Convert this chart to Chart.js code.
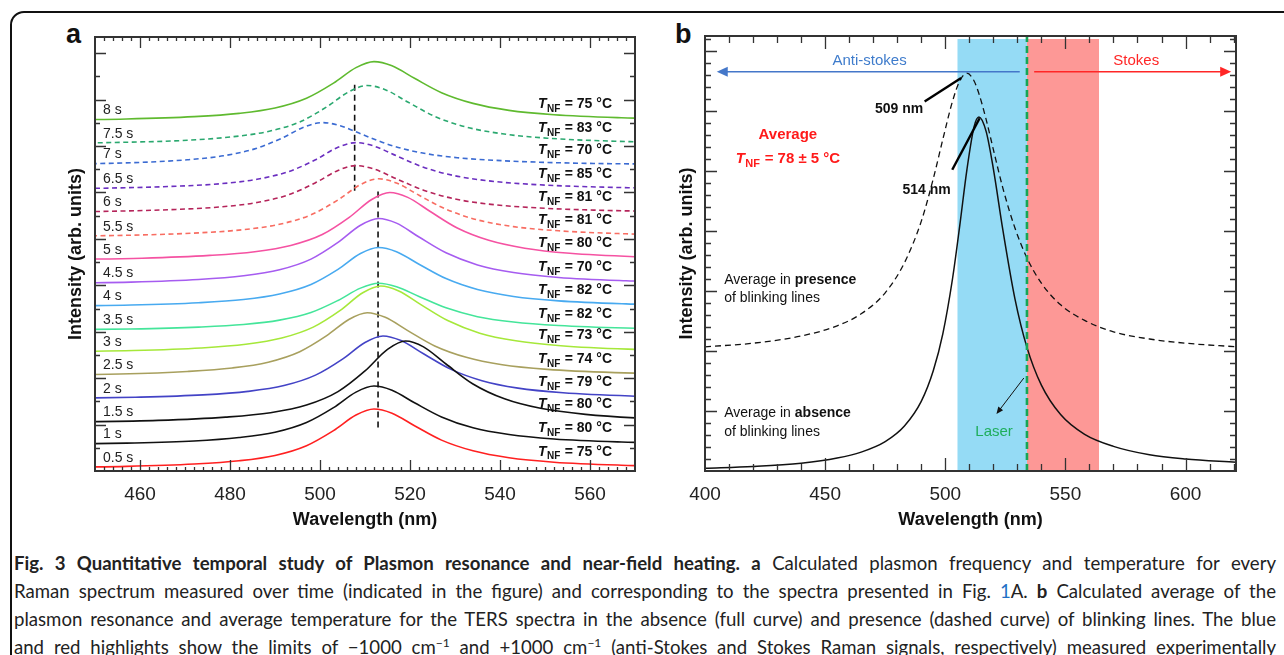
<!DOCTYPE html>
<html lang="en">
<head>
  <meta charset="UTF-8">
  <title>Fig. 3 - Plasmon resonance and near-field heating</title>
  <script src="https://cdn.jsdelivr.net/npm/chart.js@4"></script>
  <style>
    html, body { margin: 0; padding: 0; background: #fff; }
    body { width: 1284px; height: 655px; overflow: hidden; position: relative; font-family: "Liberation Sans", Arial, sans-serif; }
    .frame { position: absolute; left: 10px; top: 11px; width: 1320px; height: 720px; border: 2px solid #111; border-radius: 14px; box-sizing: border-box; }
    .panel { position: absolute; top: 20px; height: 515px; }
    #wrapA { left: 40px; width: 610px; }
    #wrapB { left: 650px; width: 600px; }
    .tag { position: absolute; top: 21px; font: bold 27px/27px "Liberation Sans", Arial, sans-serif; color: #111; }
    .caption { position: absolute; left: 14px; width: 1262px; top: 549px; font-family: Lato, "Liberation Sans", sans-serif; font-size: 18.6px; line-height: 28px; color: #222; }
    .caption div { text-align: justify; text-align-last: justify; }
    .caption .ln { color: #1f6fc5; }
    .caption sup { font-size: 12px; line-height: 0; }
  </style>
</head>

<body>
  <div class="frame"></div>
  <div class="tag" style="left:66px;">a</div>
  <div class="tag" style="left:675px;">b</div>
  <div class="panel" id="wrapA"><canvas id="chartA"></canvas></div>
  <div class="panel" id="wrapB"><canvas id="chartB"></canvas></div>

  <div class="caption">
    <div><b>Fig. 3 Quantitative temporal study of Plasmon resonance and near-field heating. a</b> Calculated plasmon frequency and temperature for every</div>
    <div>Raman spectrum measured over time (indicated in the figure) and corresponding to the spectra presented in Fig. <span class="ln">1</span>A. <b>b</b> Calculated average of the</div>
    <div>plasmon resonance and average temperature for the TERS spectra in the absence (full curve) and presence (dashed curve) of blinking lines. The blue</div>
    <div>and red highlights show the limits of −1000 cm<sup>−1</sup> and +1000 cm<sup>−1</sup> (anti-Stokes and Stokes Raman signals, respectively) measured experimentally</div>
  </div>

  <script>
    // ---- panel a : spectra over time, [wavelength nm, intensity] ----
    const ticksA = [460, 480, 500, 520, 540, 560];
    const timesA = ['0.5 s', '1 s', '1.5 s', '2 s', '2.5 s', '3 s', '3.5 s', '4 s', '4.5 s', '5 s', '5.5 s', '6 s', '6.5 s', '7 s', '7.5 s', '8 s'];
    const tempsA = [75, 80, 80, 79, 74, 73, 82, 82, 70, 80, 81, 81, 85, 70, 83, 75];

    const s05 = [[437, 0.15], [457, 0.2], [472, 0.3], [482, 0.44], [490, 0.67], [497, 1.09], [503, 1.74], [508, 2.41], [512, 2.67], [516, 2.49], [521, 1.95], [527, 1.33], [534, 0.87], [542, 0.57], [552, 0.38], [567, 0.25], [587, 0.17]];
    const s10 = [[437, 1.15], [457, 1.2], [472, 1.29], [482, 1.44], [490, 1.67], [497, 2.09], [503, 2.73], [508, 3.4], [512, 3.66], [516, 3.48], [521, 2.94], [527, 2.33], [534, 1.86], [542, 1.57], [552, 1.38], [567, 1.25], [587, 1.17]];
    const s15 = [[444, 2.11], [464, 2.18], [479, 2.32], [489, 2.51], [497, 2.84], [504, 3.42], [510, 4.31], [515, 5.24], [519, 5.6], [523, 5.35], [528, 4.61], [534, 3.75], [541, 3.11], [549, 2.7], [559, 2.44], [574, 2.25], [594, 2.15]];
    const s20 = [[439, 3.12], [459, 3.18], [474, 3.28], [484, 3.43], [492, 3.68], [499, 4.13], [505, 4.82], [510, 5.54], [514, 5.82], [518, 5.62], [523, 5.05], [529, 4.39], [536, 3.89], [544, 3.57], [554, 3.37], [569, 3.23], [589, 3.15]];
    const s25 = [[435.5, 4.13], [455.5, 4.18], [470.5, 4.29], [480.5, 4.44], [488.5, 4.69], [495.5, 5.14], [501.5, 5.83], [506.5, 6.54], [510.5, 6.82], [514.5, 6.62], [519.5, 6.05], [525.5, 5.39], [532.5, 4.9], [540.5, 4.58], [550.5, 4.38], [565.5, 4.24], [585.5, 4.16]];
    const s30 = [[438.5, 5.13], [458.5, 5.19], [473.5, 5.3], [483.5, 5.46], [491.5, 5.73], [498.5, 6.2], [504.5, 6.92], [509.5, 7.68], [513.5, 7.97], [517.5, 7.76], [522.5, 7.16], [528.5, 6.47], [535.5, 5.94], [543.5, 5.61], [553.5, 5.4], [568.5, 5.25], [588.5, 5.17]];
    const s35 = [[438, 6.08], [458, 6.12], [473, 6.2], [483, 6.31], [491, 6.5], [498, 6.83], [504, 7.35], [509, 7.88], [513, 8.09], [517, 7.94], [522, 7.52], [528, 7.03], [535, 6.65], [543, 6.42], [553, 6.27], [568, 6.16], [588, 6.1]];
    const s40 = [[438, 7.1], [458, 7.15], [473, 7.25], [483, 7.39], [491, 7.63], [498, 8.04], [504, 8.69], [509, 9.37], [513, 9.63], [517, 9.45], [522, 8.91], [528, 8.29], [535, 7.82], [543, 7.52], [553, 7.33], [568, 7.2], [588, 7.12]];
    const s45 = [[438, 8.08], [458, 8.14], [473, 8.25], [483, 8.41], [491, 8.67], [498, 9.13], [504, 9.85], [509, 10.59], [513, 10.88], [517, 10.68], [522, 10.08], [528, 9.4], [535, 8.88], [543, 8.55], [553, 8.34], [568, 8.2], [588, 8.11]];
    const s50 = [[440.5, 9.11], [460.5, 9.17], [475.5, 9.29], [485.5, 9.45], [493.5, 9.72], [500.5, 10.19], [506.5, 10.93], [511.5, 11.7], [515.5, 12.0], [519.5, 11.79], [524.5, 11.18], [530.5, 10.47], [537.5, 9.94], [545.5, 9.6], [555.5, 9.38], [570.5, 9.23], [590.5, 9.15]];
    const s55 = [[438, 10.11], [458, 10.16], [473, 10.26], [483, 10.4], [491, 10.63], [498, 11.04], [504, 11.68], [509, 12.34], [513, 12.59], [517, 12.41], [522, 11.88], [528, 11.28], [535, 10.82], [543, 10.53], [553, 10.35], [568, 10.22], [588, 10.14]];
    const s60 = [[433, 11.15], [453, 11.19], [468, 11.27], [478, 11.38], [486, 11.57], [493, 11.9], [499, 12.42], [504, 12.95], [508, 13.16], [512, 13.01], [517, 12.59], [523, 12.1], [530, 11.72], [538, 11.49], [548, 11.34], [563, 11.23], [583, 11.17]];
    const s65 = [[433, 12.15], [453, 12.19], [468, 12.27], [478, 12.38], [486, 12.57], [493, 12.9], [499, 13.41], [504, 13.95], [508, 14.15], [512, 14.0], [517, 13.58], [523, 13.09], [530, 12.72], [538, 12.49], [548, 12.34], [563, 12.23], [583, 12.17]];
    const s70 = [[425.5, 13.2], [445.5, 13.23], [460.5, 13.3], [470.5, 13.41], [478.5, 13.58], [485.5, 13.88], [491.5, 14.34], [496.5, 14.82], [500.5, 15.01], [504.5, 14.88], [509.5, 14.49], [515.5, 14.05], [522.5, 13.71], [530.5, 13.5], [540.5, 13.37], [555.5, 13.27], [575.5, 13.22]];
    const s75 = [[435.5, 14.1], [455.5, 14.16], [470.5, 14.25], [480.5, 14.4], [488.5, 14.63], [495.5, 15.04], [501.5, 15.69], [506.5, 16.35], [510.5, 16.61], [514.5, 16.43], [519.5, 15.9], [525.5, 15.28], [532.5, 14.82], [540.5, 14.53], [550.5, 14.34], [565.5, 14.21], [585.5, 14.13]];
    const s80 = [[437, 15.12], [457, 15.17], [472, 15.27], [482, 15.41], [490, 15.64], [497, 16.06], [503, 16.71], [508, 17.38], [512, 17.64], [516, 17.46], [521, 16.92], [527, 16.3], [534, 15.84], [542, 15.54], [552, 15.35], [567, 15.22], [587, 15.14]];
    const seriesA = [s05, s10, s15, s20, s25, s30, s35, s40, s45, s50, s55, s60, s65, s70, s75, s80];

    // dashed guides marking the resonance positions
    const guideUpper = [[507.7, 16.64], [507.7, 11.97]];
    const guideLower = [[512.9, 12.04], [512.9, 1.77]];

    const colorsA = ['#ff2020', '#111111', '#111111', '#4343c6', '#a8a05e', '#a6e83a', '#44e59a', '#48aaf0', '#a65cf0', '#f552a2', '#f86d62', '#b5245a', '#6b2fc0', '#3b6bd2', '#2aa86f', '#5fba2f'];
    const dashedA = [false, false, false, false, false, false, false, false, false, false, true, true, true, true, true, false];

    // ---- panel b : averaged spectra ----
    const ticksB = [400, 450, 500, 550, 600];
    const wavelengthsB = [400, 420, 440, 455, 465, 475, 483, 490, 495, 499, 503, 506, 509, 512, 514, 517, 520, 524, 529, 534, 540, 548, 558, 570, 585, 600, 621];
    const absenceB = [0.045, 0.075, 0.13, 0.215, 0.315, 0.49, 0.75, 1.16, 1.67, 2.29, 3.2, 4.08, 5.02, 5.74, 5.9, 5.66, 5.04, 4.01, 2.87, 2.06, 1.43, 0.94, 0.61, 0.41, 0.27, 0.2, 0.145];
    const presenceB = [2.07, 2.13, 2.25, 2.42, 2.62, 2.97, 3.47, 4.16, 4.87, 5.53, 6.16, 6.5, 6.63, 6.5, 6.29, 5.86, 5.36, 4.71, 4.05, 3.55, 3.13, 2.77, 2.51, 2.32, 2.2, 2.13, 2.07];
    const antiStokesBand = [505, 534];
    const stokesBand = [534, 564];
    const laserNm = 534;
    const bandTop = 7.2;

    const FONT = '"Liberation Sans", Arial, Helvetica, sans-serif';
    Chart.defaults.font.family = FONT;
    Chart.defaults.color = '#222';

    function valueAt(pts, nm) {
      for (let i = 1; i < pts.length; i++) {
        if (pts[i][0] >= nm) {
          const [x0, y0] = pts[i - 1], [x1, y1] = pts[i];
          return y0 + (y1 - y0) * (nm - x0) / (x1 - x0);
        }
      }
      return pts[pts.length - 1][1];
    }

    function drawTnf(ctx, x, yMid, tail, color, size, align) {
      const f1 = `italic bold ${size}px ${FONT}`, f2 = `bold ${Math.round(size * 0.72)}px ${FONT}`, f3 = `bold ${size}px ${FONT}`;
      ctx.font = f1; const w1 = ctx.measureText('T').width + 0.5;
      ctx.font = f2; const w2 = ctx.measureText('NF').width + 0.5;
      ctx.font = f3; const w3 = ctx.measureText(tail).width;
      const total = w1 + w2 + w3;
      const x0 = align === 'center' ? x - total / 2 : x - total;
      const base = yMid + size * 0.36;
      ctx.fillStyle = color; ctx.textAlign = 'left'; ctx.textBaseline = 'alphabetic';
      ctx.font = f1; ctx.fillText('T', x0, base);
      ctx.font = f2; ctx.fillText('NF', x0 + w1, base + size * 0.28);
      ctx.font = f3; ctx.fillText(tail, x0 + w1 + w2, base);
    }

    function arrow(ctx, x1, y1, x2, y2, color, lw, hl, hw) {
      const ang = Math.atan2(y2 - y1, x2 - x1);
      ctx.strokeStyle = color; ctx.fillStyle = color; ctx.lineWidth = lw;
      ctx.beginPath(); ctx.moveTo(x1, y1);
      ctx.lineTo(x2 - Math.cos(ang) * hl * 0.8, y2 - Math.sin(ang) * hl * 0.8); ctx.stroke();
      ctx.beginPath(); ctx.moveTo(x2, y2);
      ctx.lineTo(x2 - Math.cos(ang) * hl - Math.sin(ang) * hw, y2 - Math.sin(ang) * hl + Math.cos(ang) * hw);
      ctx.lineTo(x2 - Math.cos(ang) * hl + Math.sin(ang) * hw, y2 - Math.sin(ang) * hl - Math.cos(ang) * hw);
      ctx.closePath(); ctx.fill();
    }

    // inward ticks on the four sides plus the box
    const frameTicks = {
      id: 'frameTicks',
      afterDraw(chart, args, o) {
        const { ctx, chartArea: a, scales: { x, y } } = chart;
        ctx.save();
        ctx.strokeStyle = '#333';
        ctx.lineWidth = 1.3;
        ctx.beginPath();
        o.xTicks.forEach(([v, len]) => {
          const p = Math.round(x.getPixelForValue(v)) + 0.5;
          ctx.moveTo(p, a.bottom); ctx.lineTo(p, a.bottom - len);
          ctx.moveTo(p, a.top); ctx.lineTo(p, a.top + len);
        });
        o.yTicks.forEach(([v, len]) => {
          const p = Math.round(y.getPixelForValue(v)) + 0.5;
          ctx.moveTo(a.left, p); ctx.lineTo(a.left + len, p);
          ctx.moveTo(a.right, p); ctx.lineTo(a.right - len, p);
        });
        ctx.stroke();
        ctx.lineWidth = 2;
        ctx.strokeRect(a.left, a.top, a.right - a.left, a.bottom - a.top);
        ctx.restore();
      }
    };

    function axisOptions(xMin, xMax, yMax, tickVals, yTitlePad) {
      return {
        x: {
          type: 'linear', min: xMin, max: xMax,
          afterBuildTicks: s => { s.ticks = tickVals.map(v => ({ value: v })); },
          afterFit: s => { s.height = 64; },
          grid: { display: false, drawTicks: false },
          border: { display: false },
          ticks: { font: { size: 19 }, padding: 12, color: '#222', maxRotation: 0, autoSkip: false },
          title: { display: true, text: 'Wavelength (nm)', font: { size: 18, weight: 'bold' }, color: '#111', padding: { top: 0, bottom: 4 } }
        },
        y: {
          min: 0, max: yMax,
          afterFit: s => { s.width = 55; },
          grid: { display: false, drawTicks: false },
          border: { display: false },
          ticks: { display: false },
          title: { display: true, text: 'Intensity (arb. units)', font: { size: 18, weight: 'bold' }, color: '#111', padding: { top: yTitlePad, bottom: 0 } }
        }
      };
    }

    // ---------------- chart a ----------------
    const labelsA = {
      id: 'labelsA',
      afterDatasetsDraw(chart) {
        const { ctx, chartArea: a, scales: { y } } = chart;
        ctx.save();
        seriesA.forEach((pts, i) => {
          ctx.font = `14px ${FONT}`;
          ctx.fillStyle = '#222'; ctx.textAlign = 'left'; ctx.textBaseline = 'middle';
          ctx.fillText(timesA[i], a.left + 8, y.getPixelForValue(valueAt(pts, 450)) - 9);
          drawTnf(ctx, a.right - 23, y.getPixelForValue(valueAt(pts, 570)) - 15, ` = ${tempsA[i]} °C`, '#111', 14, 'right');
        });
        ctx.restore();
      }
    };

    const xTicksA = [];
    for (let v = 452; v < 570; v += 2) xTicksA.push([v, ticksA.includes(v) ? 11 : 4]);
    const yTicksA = [];
    for (let v = 1; v <= 18; v++) yTicksA.push([v, v % 2 === 0 ? 11 : 5]);

    const datasetsA = seriesA.map((pts, i) => ({
      data: pts.map(([x, y]) => ({ x, y })),
      borderColor: colorsA[i],
      borderWidth: 1.6,
      borderDash: dashedA[i] ? [5, 3.5] : [],
      pointRadius: 0,
      cubicInterpolationMode: 'monotone',
      fill: false
    }));
    [guideUpper, guideLower].forEach(g => datasetsA.push({
      data: g.map(([x, y]) => ({ x, y })),
      borderColor: '#111', borderWidth: 1.6, borderDash: [6, 4], pointRadius: 0, tension: 0, fill: false
    }));

    new Chart(document.getElementById('chartA'), {
      type: 'line',
      data: { datasets: datasetsA },
      options: {
        responsive: true, maintainAspectRatio: false, animation: false, events: [],
        layout: { padding: { top: 17, right: 15, bottom: 0, left: 0 } },
        scales: axisOptions(450, 570, 18.7, ticksA, 25),
        plugins: { legend: { display: false }, tooltip: { enabled: false }, frameTicks: { xTicks: xTicksA, yTicks: yTicksA } }
      },
      plugins: [frameTicks, labelsA]
    });

    // ---------------- chart b ----------------
    const notesB = {
      id: 'notesB',
      afterDatasetsDraw(chart) {
        const { ctx, scales: { x, y } } = chart;
        const px = v => x.getPixelForValue(v), py = v => y.getPixelForValue(v);
        ctx.save();
        // Anti-stokes / Stokes arrows
        arrow(ctx, px(531), py(6.655), px(404.9), py(6.655), '#4477c9', 1.6, 11, 5);
        arrow(ctx, px(537), py(6.655), px(619), py(6.655), '#ff2626', 1.6, 11, 5);
        ctx.font = `15px ${FONT}`; ctx.textAlign = 'center'; ctx.textBaseline = 'middle';
        ctx.fillStyle = '#3f7ccc'; ctx.fillText('Anti-stokes', px(468.5), py(6.84));
        ctx.fillStyle = '#ff2626'; ctx.fillText('Stokes', px(579.5), py(6.84));
        // peak pointers
        ctx.strokeStyle = '#000'; ctx.lineWidth = 2.4;
        ctx.beginPath(); ctx.moveTo(px(491.4), py(6.16)); ctx.lineTo(px(506.6), py(6.55)); ctx.stroke();
        ctx.beginPath(); ctx.moveTo(px(502.9), py(5.02)); ctx.lineTo(px(514.3), py(5.88)); ctx.stroke();
        ctx.font = `bold 14px ${FONT}`; ctx.fillStyle = '#111';
        ctx.textAlign = 'right'; ctx.fillText('509 nm', px(490.8), py(6.03));
        ctx.textAlign = 'center'; ctx.fillText('514 nm', px(492.2), py(4.68));
        // average temperature
        ctx.font = `bold 15px ${FONT}`; ctx.fillStyle = '#ff1a1a';
        ctx.fillText('Average', px(434.5), py(5.6));
        drawTnf(ctx, px(434.5), py(5.23), ' = 78 ± 5 °C', '#ff1a1a', 15, 'center');
        // curve legends
        const rich = (a, b, xv, yv) => {
          ctx.textAlign = 'left'; ctx.textBaseline = 'middle'; ctx.fillStyle = '#111';
          ctx.font = `14px ${FONT}`; ctx.fillText(a, px(xv), py(yv));
          const w = ctx.measureText(a).width;
          ctx.font = `bold 14px ${FONT}`; ctx.fillText(b, px(xv) + w, py(yv));
        };
        rich('Average in ', 'presence', 408, 3.18);
        rich('of blinking lines', '', 408, 2.88);
        rich('Average in ', 'absence', 408, 0.97);
        rich('of blinking lines', '', 408, 0.655);
        // laser
        arrow(ctx, px(532.7), py(1.55), px(521.3), py(0.95), '#111', 1, 7, 3);
        ctx.font = `15px ${FONT}`; ctx.textAlign = 'center'; ctx.fillStyle = '#1fae5c';
        ctx.fillText('Laser', px(520.3), py(0.655));
        ctx.restore();
      }
    };

    const xTicksB = [];
    for (let v = 410; v <= 620; v += 10) xTicksB.push([v, v % 50 === 0 ? 13 : 7]);
    const yTicksB = [];
    for (let k = 1; k <= 36; k++) yTicksB.push([k / 5, k % 5 === 0 ? 12 : 6]);

    new Chart(document.getElementById('chartB'), {
      type: 'line',
      data: {
        datasets: [
          { data: [{ x: antiStokesBand[0], y: bandTop }, { x: antiStokesBand[1], y: bandTop }], backgroundColor: '#95dbf5', borderWidth: 0, pointRadius: 0, fill: 'origin', order: 10 },
          { data: [{ x: stokesBand[0], y: bandTop }, { x: stokesBand[1], y: bandTop }], backgroundColor: '#fd9896', borderWidth: 0, pointRadius: 0, fill: 'origin', order: 10 },
          { data: wavelengthsB.map((x, i) => ({ x, y: presenceB[i] })), borderColor: '#111', borderWidth: 1.3, borderDash: [6, 4], pointRadius: 0, cubicInterpolationMode: 'monotone', fill: false, order: 2 },
          { data: wavelengthsB.map((x, i) => ({ x, y: absenceB[i] })), borderColor: '#111', borderWidth: 1.5, pointRadius: 0, cubicInterpolationMode: 'monotone', fill: false, order: 1 },
          { data: [{ x: laserNm, y: 0 }, { x: laserNm, y: 7.25 }], borderColor: '#17a556', borderWidth: 2.6, borderDash: [7, 4], pointRadius: 0, tension: 0, fill: false, order: 0 }
        ]
      },
      options: {
        responsive: true, maintainAspectRatio: false, animation: false, events: [],
        layout: { padding: { top: 16, right: 14, bottom: 0, left: 0 } },
        scales: axisOptions(400, 621, 7.25, ticksB, 26),
        plugins: { legend: { display: false }, tooltip: { enabled: false }, frameTicks: { xTicks: xTicksB, yTicks: yTicksB } }
      },
      plugins: [frameTicks, notesB]
    });
  </script>
</body>

</html>
